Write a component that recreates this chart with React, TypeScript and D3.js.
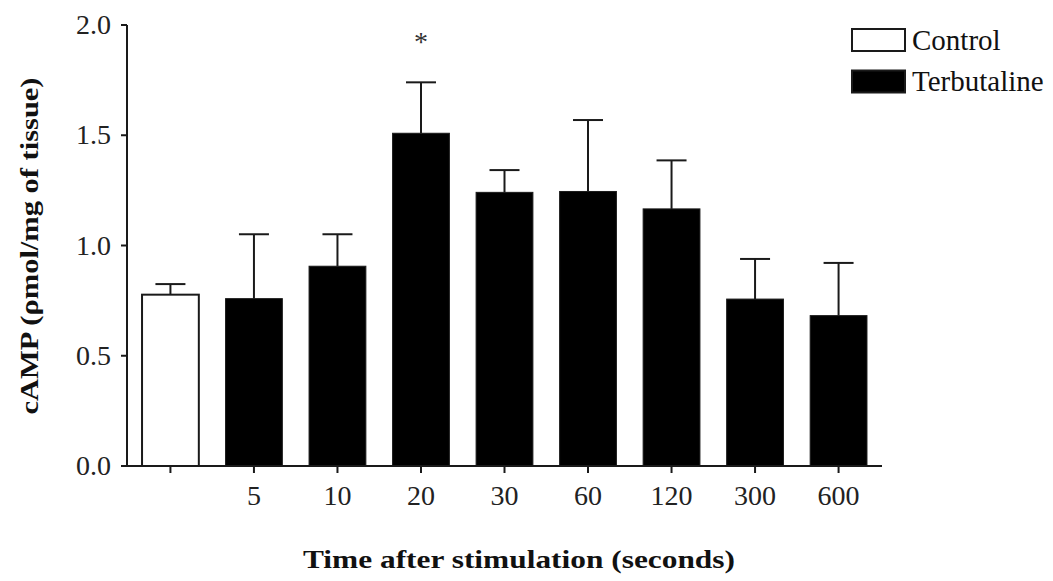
import React from "react";
import * as d3 from "d3";

const categories = ["", "5", "10", "20", "30", "60", "120", "300", "600"];
const groups = ["Control", "Terbutaline", "Terbutaline", "Terbutaline", "Terbutaline", "Terbutaline", "Terbutaline", "Terbutaline", "Terbutaline"];
const means = [0.777, 0.759, 0.906, 1.509, 1.241, 1.245, 1.166, 0.757, 0.682];
const sems = [0.048, 0.292, 0.145, 0.231, 0.101, 0.324, 0.22, 0.182, 0.239];
const yTicks = [0, 0.5, 1.0, 1.5, 2.0];
const significant = ["20"];
const legendItems = ["Control", "Terbutaline"];

const W = 1053;
const H = 581;
const axisX = 127;
const axisRight = 882;
const yTop = 25;
const yBottom = 466;

export default function App() {
  const x = d3
    .scaleBand<string>()
    .domain(categories)
    .range([axisX, axisRight])
    .paddingInner(0.32)
    .paddingOuter(0.18);
  const y = d3.scaleLinear().domain([0, 2]).range([yBottom, yTop]);
  const bw = x.bandwidth();
  const font = "'Liberation Serif', 'Times New Roman', serif";
  const ink = "#1a1a1a";
  const fillFor = (g: string) => (g === "Control" ? "#ffffff" : "#000000");

  return (
    <svg
      width={W}
      height={H}
      style={{ position: "absolute", left: 0, top: 0, background: "#fff" }}
      fontFamily={font}
    >
      <rect x={0} y={0} width={W} height={H} fill="#fff" />
      {/* error bars */}
      {categories.map((c, i) => {
        const cx = (x(c) as number) + bw / 2;
        return (
          <g key={"e" + i} stroke={ink} strokeWidth={2}>
            <line x1={cx} x2={cx} y1={y(means[i])} y2={y(means[i] + sems[i])} />
            <line x1={cx - 15} x2={cx + 15} y1={y(means[i] + sems[i])} y2={y(means[i] + sems[i])} />
          </g>
        );
      })}
      {/* bars */}
      {categories.map((c, i) => (
        <rect
          key={"b" + i}
          x={x(c) as number}
          y={y(means[i])}
          width={bw}
          height={y(0) - y(means[i])}
          fill={fillFor(groups[i])}
          stroke={ink}
          strokeWidth={groups[i] === "Control" ? 2 : 1}
        />
      ))}
      {/* significance */}
      {categories.map((c, i) =>
        significant.includes(c) ? (
          <text
            key={"s" + i}
            x={(x(c) as number) + bw / 2}
            y={y(means[i] + sems[i]) - 31}
            textAnchor="middle"
            fontSize={28}
            fill="#333"
          >
            *
          </text>
        ) : null
      )}
      {/* y axis */}
      <line x1={axisX} x2={axisX} y1={yTop} y2={yBottom} stroke={ink} strokeWidth={2} />
      {yTicks.map((t) => (
        <g key={"yt" + t}>
          <line x1={axisX - 6} x2={axisX} y1={y(t)} y2={y(t)} stroke={ink} strokeWidth={2} />
          <text
            x={111}
            y={y(t) + 9}
            textAnchor="end"
            fontSize={28}
            fill="#222"
          >
            {d3.format(".1f")(t)}
          </text>
        </g>
      ))}
      {/* x axis */}
      <line x1={axisX - 6} x2={axisRight} y1={yBottom} y2={yBottom} stroke={ink} strokeWidth={2} />
      {categories.map((c, i) => {
        const cx = (x(c) as number) + bw / 2;
        return (
          <g key={"xt" + i}>
            <line x1={cx} x2={cx} y1={yBottom} y2={yBottom + 7} stroke={ink} strokeWidth={2} />
            <text x={cx} y={505} textAnchor="middle" fontSize={28} fill="#222">
              {c}
            </text>
          </g>
        );
      })}
      {/* axis titles */}
      <text
        x={519}
        y={568}
        textAnchor="middle"
        fontSize={25}
        fontWeight="bold"
        fill="#111"
        textLength={432}
        lengthAdjust="spacingAndGlyphs"
      >
        Time after stimulation (seconds)
      </text>
      <text
        transform={`translate(38, 246) rotate(-90)`}
        textAnchor="middle"
        fontSize={25}
        fontWeight="bold"
        fill="#111"
        textLength={337}
        lengthAdjust="spacingAndGlyphs"
      >
        cAMP (ρmol/mg of tissue)
      </text>
      {/* legend */}
      {legendItems.map((l, i) => (
        <g key={"l" + i}>
          <rect
            x={852}
            y={29 + i * 41.5}
            width={53}
            height={22}
            fill={fillFor(l)}
            stroke={ink}
            strokeWidth={2}
          />
          <text x={912} y={50 + i * 41} fontSize={29} fill="#111">
            {l}
          </text>
        </g>
      ))}
    </svg>
  );
}
